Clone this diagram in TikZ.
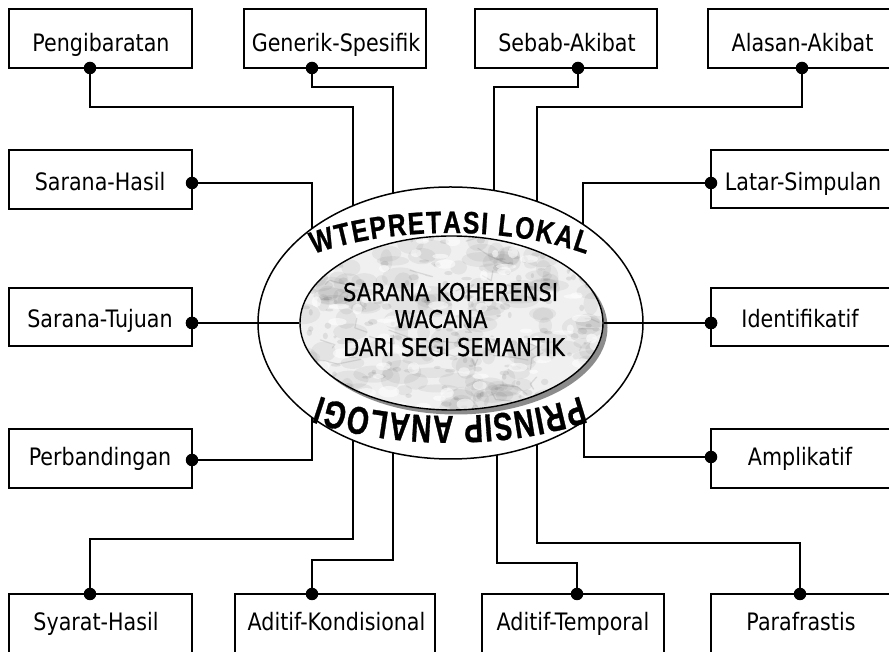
\documentclass[tikz,border=0pt]{standalone}
\usepackage{fontspec}
\usetikzlibrary{shapes.geometric,decorations.text,calc}
\newfontfamily\labfont[FakeStretch=0.86]{DejaVu Sans}
\newfontfamily\corefont[FakeStretch=0.86,FakeBold=0.6]{DejaVu Sans}
\newfontfamily\toparcface[FakeStretch=0.8,FakeBold=0.8]{Liberation Sans}
\newfontfamily\botarcface[FakeStretch=0.72,FakeBold=0.8]{Liberation Sans}
\newcommand\toparcfont{\toparcface\bfseries\fontsize{31}{31}\selectfont}
\newcommand\botarcfont{\botarcface\bfseries\fontsize{39}{39}\selectfont}
\begin{document}
\begin{tikzpicture}[x=1pt,y=1pt,
  box/.style={draw=black, line width=1.4pt, fill=white, inner sep=0pt, minimum height=59pt},
  lbl/.style={anchor=base, inner sep=0pt, font=\labfont\fontsize{24}{28}\selectfont},
  core text/.style={anchor=base, inner sep=0pt, font=\corefont\fontsize{24.5}{28}\selectfont},
  wire/.style={line width=1.8pt, line join=miter},
  joint/.style={circle, fill=black, inner sep=0pt, minimum size=12.5pt},
  ring/.style={ellipse, draw=black, line width=1.5pt, fill=white, inner sep=0pt,
    minimum width=385pt, minimum height=272pt},
  core/.style={ellipse, draw=black, line width=1.4pt, inner sep=0pt,
    minimum width=303pt, minimum height=174pt},
]
\useasboundingbox (0,0) rectangle (889,652);

% ---- top row ----
\node[box, minimum width=183pt] (pengi) at (100.5,613.5) {};
\node[box, minimum width=182pt] (generik) at (335,613.5) {};
\node[box, minimum width=182pt] (sebab) at (566,613.5) {};
\node[box, minimum width=183pt] (alasan) at (799.5,613.5) {};
\node[lbl] (pengi-t) at (101,600) {Pengibaratan};
\node[lbl] (generik-t) at (336,600) {Generik-Spesifik};
\node[lbl] (sebab-t) at (567,600) {Sebab-Akibat};
\node[lbl] (alasan-t) at (802.5,600) {Alasan-Akibat};

% ---- left column ----
\node[box, minimum width=183pt] (sarhasil) at (100.5,472.5) {};
\node[box, minimum width=183pt, minimum height=58pt] (sartuj) at (100.5,335) {};
\node[box, minimum width=183pt] (perb) at (100.5,193.5) {};
\node[lbl] (sarhasil-t) at (100,461.3) {Sarana-Hasil};
\node[lbl] (sartuj-t) at (100,324) {Sarana-Tujuan};
\node[lbl] (perb-t) at (100,186.3) {Perbandingan};

% ---- right column ----
\node[box, minimum width=180pt, minimum height=58pt] (latar) at (801,473) {};
\node[box, minimum width=180pt, minimum height=58pt] (ident) at (801,335) {};
\node[box, minimum width=180pt] (ampl) at (801,193.5) {};
\node[lbl] (latar-t) at (803,461) {Latar-Simpulan};
\node[lbl] (ident-t) at (800,324) {Identifikatif};
\node[lbl] (ampl-t) at (800,186.3) {Amplikatif};

% ---- bottom row ----
\node[box, minimum width=183pt] (syarat) at (100.5,28.5) {};
\node[box, minimum width=200pt] (kond) at (335,28.5) {};
\node[box, minimum width=182pt] (temp) at (573,28.5) {};
\node[box, minimum width=180pt] (para) at (801,28.5) {};
\node[lbl] (syarat-t) at (96,21) {Syarat-Hasil};
\node[lbl] (kond-t) at (336.5,21) {Aditif-Kondisional};
\node[lbl] (temp-t) at (573,21) {Aditif-Temporal};
\node[lbl] (para-t) at (801,21) {Parafrastis};

% ---- connection points on the boxes ----
\node[joint] (j-pengi) at (90,584) {};
\node[joint] (j-generik) at (312,584) {};
\node[joint] (j-sebab) at (578,584) {};
\node[joint] (j-alasan) at (802,584) {};
\node[joint] (j-sarhasil) at (192,469) {};
\node[joint] (j-sartuj) at (192,329) {};
\node[joint] (j-perb) at (192,192) {};
\node[joint] (j-latar) at (711,469) {};
\node[joint] (j-ident) at (711,329) {};
\node[joint] (j-ampl) at (711,195) {};
\node[joint] (j-syarat) at (90,58) {};
\node[joint] (j-kond) at (312,58) {};
\node[joint] (j-temp) at (577,58) {};
\node[joint] (j-para) at (800,58) {};

\coordinate (hub) at (450.5,329);

% ---- elbow connectors running into the ring ----
\draw[wire] (j-pengi.center) |- (353,545) -- (353,545 |- hub);
\draw[wire] (j-generik.center) |- (393,565) -- (393,565 |- hub);
\draw[wire] (j-sebab.center) |- (494,565) -- (494,565 |- hub);
\draw[wire] (j-alasan.center) |- (537,545) -- (537,545 |- hub);
\draw[wire] (j-sarhasil.center) -| (312,329 |- hub);
\draw[wire] (j-perb.center) -| (312,329 |- hub);
\draw[wire] (j-latar.center) -| (583,329 |- hub);
\draw[wire] (j-ampl.center) -| (584,329 |- hub);
\draw[wire] (j-syarat.center) |- (353,113) -- (353,113 |- hub);
\draw[wire] (j-kond.center) |- (393,92) -- (393,92 |- hub);
\draw[wire] (j-temp.center) |- (497,89) -- (497,89 |- hub);
\draw[wire] (j-para.center) |- (537,109) -- (537,109 |- hub);

% ---- outer ring with the arched captions ----
\node[ring] (ring) at (hub) {};
\path[decorate, decoration={text along path,
    text={|\toparcfont|WTEPRETASI LOKAL}, text align={fit to path}}]
  (450,329) ++(130:212 and 90) arc[start angle=130, end angle=50, x radius=212, y radius=90];
\path[decorate, decoration={text along path,
    text={|\botarcfont|PRINSIP ANALOGI}, text align={fit to path}}]
  (450,329) ++(-52:212 and 93) arc[start angle=-52, end angle=-128, x radius=212, y radius=93];

% ---- marble core with drop shadow ----
\fill[black!45] (456,324.5) ellipse [x radius=151.5, y radius=87];
\begin{scope}
  \clip (451.5,329) ellipse [x radius=151.5, y radius=87];
  \fill[black!6] (451.5,329) ellipse [x radius=152, y radius=88];
  \pgfmathsetseed{11}
  \foreach \k in {1,...,160}{
    \fill[black, opacity=0.05]
      ({451.5+150*rand},{329+86*rand}) ellipse [x radius={6+16*rnd}, y radius={4+8*rnd}];
  }
  \foreach \k in {1,...,200}{
    \fill[black, opacity=0.08]
      ({451.5+150*rand},{329+86*rand}) ellipse [x radius={1.5+4*rnd}, y radius={1+2.5*rnd}];
  }
  \foreach \k in {1,...,30}{
    \draw[black!60, opacity=0.18, line width=1.2pt, line cap=round, line join=round]
      ({451.5+150*rand},{329+86*rand}) -- ++({-25+50*rnd},{-12+24*rnd}) -- ++({-18+36*rnd},{-10+20*rnd});
  }
  \foreach \k in {1,...,70}{
    \fill[white, opacity=0.55]
      ({451.5+150*rand},{329+86*rand}) ellipse [x radius={3+8*rnd}, y radius={2+4*rnd}];
  }
\end{scope}
\node[core] (core) at (451.5,329) {};
\node[core text] (core-1) at (450.5,351) {SARANA KOHERENSI};
\node[core text] (core-2) at (441,324) {WACANA};
\node[core text] (core-3) at (454,296) {DARI SEGI SEMANTIK};

% ---- straight connectors into the core ----
\draw[wire] (j-sartuj.center) -- (core.west);
\draw[wire] (j-ident.center) -- (core.east);
\node[joint] at (j-sartuj) {};
\node[joint] at (j-ident) {};
\end{tikzpicture}
\end{document}
